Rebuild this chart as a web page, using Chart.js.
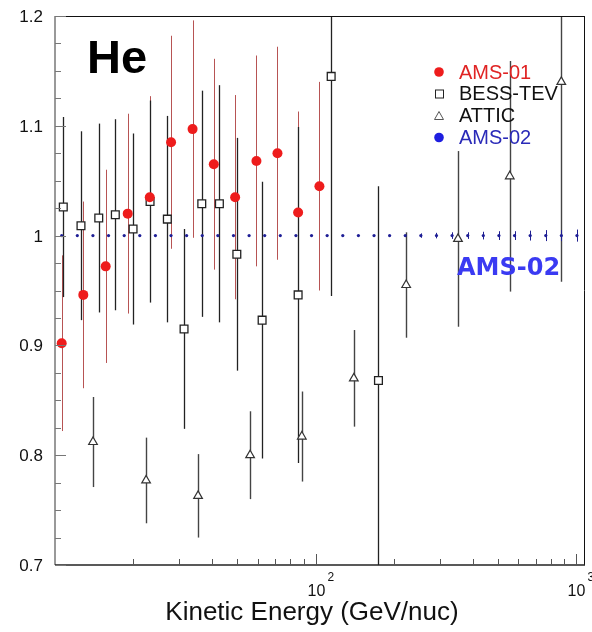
<!DOCTYPE html>
<html>
<head>
<meta charset="utf-8">
<script src="https://cdn.jsdelivr.net/npm/chart.js@4.4.1/dist/chart.umd.min.js"></script>
<style>
  html, body { margin: 0; padding: 0; background: #fff; }
  #wrap { width: 592px; height: 632px; }
</style>
</head>
<body>
<div id="wrap"><canvas id="heChart" width="592" height="632"></canvas></div>
<script>
// He flux ratio to AMS-02 vs kinetic energy (GeV/nuc)
const ams01E   = [10.61, 12.84, 15.65, 19.01, 23.10, 27.88, 33.72, 40.67, 49.10, 59.27, 71.37, 85.66, 103.4];
const ams01R   = [0.902, 0.946, 0.972, 1.020, 1.035, 1.085, 1.097, 1.065, 1.035, 1.068, 1.075, 1.021, 1.045];
const ams01Err = [0.080, 0.085, 0.088, 0.091, 0.092, 0.097, 0.099, 0.096, 0.093, 0.096, 0.097, 0.092, 0.095];

const bessE   = [10.76, 12.58, 14.72, 17.04, 19.93, 23.16, 26.98, 31.27, 36.57, 42.73, 49.85, 62.32, 85.66, 114.7, 174.2];
const bessR   = [1.026, 1.009, 1.016, 1.019, 1.006, 1.031, 1.015, 0.915, 1.029, 1.029, 0.983, 0.923, 0.946, 1.145, 0.868];
const bessErr = [0.082, 0.086, 0.086, 0.087, 0.087, 0.092, 0.094, 0.091, 0.103, 0.108, 0.106, 0.126, 0.153, 0.200, 0.177];

const atticE   = [13.99, 22.36, 35.39, 56.05, 88.51, 140.1, 222.5, 351.6, 555.6, 875.8];
const atticR   = [0.812, 0.777, 0.763, 0.800, 0.817, 0.870, 0.955, 0.997, 1.054, 1.140];
const atticErr = [0.041, 0.039, 0.038, 0.040, 0.041, 0.044, 0.048, 0.080, 0.105, 0.182];

const ams02E = [10.61, 12.18, 13.98, 16.05, 18.43, 21.15, 24.28, 27.87, 31.99, 36.72,
                42.15, 48.39, 55.55, 63.76, 73.19, 84.02, 96.44, 110.7, 127.1, 145.9,
                167.5, 192.2, 220.7, 253.3, 290.8, 333.8, 383.2, 439.8, 504.9, 579.6,
                665.3, 763.7, 876.7, 1006];
const ams02R = [1, 1, 1, 1, 1, 1, 1, 1, 1, 1, 1, 1, 1, 1, 1, 1, 1,
                1, 1, 1, 1, 1, 1, 1, 1, 1, 1, 1, 1, 1, 1, 1, 1, 1];
const ams02Err = [0, 0, 0, 0, 0, 0, 0, 0, 0, 0, 0, 0, 0, 0, 0, 0, 0,
                  0, 0, 0, 0, 0, 0, 0.002, 0.0025, 0.003, 0.003, 0.0035, 0.004, 0.004, 0.0045, 0.005, 0.005, 0.0055];

const seriesNames = ['AMS-01', 'BESS-TEV', 'ATTIC', 'AMS-02'];
const xTitle = 'Kinetic Energy (GeV/nuc)';

const FONT = "'Liberation Sans', Arial, Helvetica, sans-serif";

const pts = (xs, ys) => xs.map((x, i) => ({ x, y: ys[i] }));

// vertical error bars, clipped to the frame
const errorBars = {
  id: 'errorBars',
  beforeDatasetsDraw(chart) {
    const { ctx, chartArea: a, scales: { x, y } } = chart;
    ctx.save();
    ctx.beginPath();
    ctx.rect(a.left, a.top, a.right - a.left, a.bottom - a.top);
    ctx.clip();
    chart.data.datasets.forEach(ds => {
      ctx.strokeStyle = ds.barColor;
      ctx.lineWidth = ds.barWidth;
      ds.data.forEach((p, i) => {
        const e = ds.err[i];
        if (!e) return;
        const px = Math.round(x.getPixelForValue(p.x)) + 0.5;
        ctx.beginPath();
        ctx.moveTo(px, y.getPixelForValue(p.y + e));
        ctx.lineTo(px, y.getPixelForValue(p.y - e));
        ctx.stroke();
      });
    });
    ctx.restore();
  }
};

// ROOT-like frame, inward ticks, labels, legend, annotations
const frame = {
  id: 'frame',
  afterDraw(chart) {
    const { ctx, chartArea: a, scales: { x, y } } = chart;
    ctx.save();

    // frame
    ctx.lineWidth = 1;
    ctx.strokeStyle = '#111';
    ctx.beginPath();
    ctx.moveTo(a.left, a.top + 0.5); ctx.lineTo(a.right, a.top + 0.5);
    ctx.moveTo(a.right - 0.5, a.top); ctx.lineTo(a.right - 0.5, a.bottom);
    ctx.stroke();
    ctx.lineWidth = 1.5;
    ctx.strokeStyle = '#777';
    ctx.beginPath();
    ctx.moveTo(a.left, a.top); ctx.lineTo(a.left, a.bottom);
    ctx.stroke();
    ctx.strokeStyle = '#222';
    ctx.beginPath();
    ctx.moveTo(a.left, a.bottom); ctx.lineTo(a.right, a.bottom);
    ctx.stroke();

    // y ticks + labels
    ctx.lineWidth = 1;
    ctx.strokeStyle = '#777';
    ctx.fillStyle = '#111';
    ctx.font = '17px ' + FONT;
    ctx.textAlign = 'right';
    ctx.textBaseline = 'middle';
    y.ticks.forEach(t => {
      const py = Math.round(y.getPixelForValue(t.value)) + 0.5;
      const major = Math.abs(t.value * 10 - Math.round(t.value * 10)) < 1e-6;
      ctx.beginPath();
      ctx.moveTo(a.left, py);
      ctx.lineTo(a.left + (major ? 11 : 6), py);
      ctx.stroke();
      if (major) ctx.fillText(String(Math.round(t.value * 10) / 10), 43, py + 1);
    });

    // x ticks + labels
    ctx.strokeStyle = '#555';
    x.ticks.forEach(t => {
      const v = t.value;
      const e = Math.floor(Math.log10(v) + 1e-9);
      const s = v / Math.pow(10, e);
      if (Math.abs(s - Math.round(s)) > 1e-6) return;
      const px = Math.round(x.getPixelForValue(v)) + 0.5;
      if (px < a.left + 2 || px > a.right - 1) return;
      const major = Math.round(s) === 1;
      ctx.beginPath();
      ctx.moveTo(px, a.bottom);
      ctx.lineTo(px, a.bottom - (major ? 11 : 6));
      ctx.stroke();
      if (major) {
        ctx.fillStyle = '#111';
        ctx.textAlign = 'center';
        ctx.textBaseline = 'alphabetic';
        ctx.font = '16px ' + FONT;
        ctx.fillText('10', px, a.bottom + 31);
        ctx.textAlign = 'left';
        ctx.font = '12px ' + FONT;
        ctx.fillText(String(e), px + 11, a.bottom + 16);
      }
    });

    // axis title
    ctx.fillStyle = '#111';
    ctx.textAlign = 'center';
    ctx.textBaseline = 'alphabetic';
    ctx.font = '26px ' + FONT;
    ctx.fillText(xTitle, 312, 620);

    // "He"
    ctx.textAlign = 'left';
    ctx.font = 'bold 47px ' + FONT;
    ctx.fillStyle = '#000';
    ctx.fillText('He', 87, 73);

    // AMS-02 tag
    ctx.font = "bold 24px 'DejaVu Sans', Verdana, sans-serif";
    ctx.fillStyle = '#3a3af2';
    ctx.fillText('AMS-02', 457, 275);

    // legend
    const rows = [72, 93.5, 115.5, 137.5];
    const textCol = ['#e02424', '#111', '#111', '#2a2ab8'];
    ctx.font = '20px ' + FONT;
    ctx.textBaseline = 'middle';
    seriesNames.forEach((name, i) => {
      const cy = rows[i], cx = 439;
      ctx.lineWidth = 1;
      if (i === 0 || i === 3) {
        ctx.fillStyle = i === 0 ? '#ee1c1c' : '#1e1ee0';
        ctx.beginPath(); ctx.arc(cx, cy, 4.8, 0, Math.PI * 2); ctx.fill();
      } else if (i === 1) {
        ctx.strokeStyle = '#222';
        ctx.strokeRect(cx - 3.5, cy - 3.5, 8, 8);
      } else {
        ctx.strokeStyle = '#555';
        ctx.beginPath();
        ctx.moveTo(cx, cy - 4); ctx.lineTo(cx + 4.5, cy + 4); ctx.lineTo(cx - 4.5, cy + 4); ctx.closePath();
        ctx.stroke();
      }
      ctx.fillStyle = textCol[i];
      ctx.fillText(name, 459, cy + 1);
    });

    ctx.restore();
  }
};

const ctx = document.getElementById('heChart').getContext('2d');

const heChart = new Chart(ctx, {
  type: 'scatter',
  data: {
    datasets: [
      {
        label: seriesNames[0],
        data: pts(ams01E, ams01R),
        err: ams01Err, barColor: 'rgba(165,40,40,0.8)', barWidth: 1,
        pointStyle: 'circle', pointRadius: 5,
        backgroundColor: '#ee1c1c', borderColor: '#ee1c1c', borderWidth: 0,
        order: 1
      },
      {
        label: seriesNames[1],
        data: pts(bessE, bessR),
        err: bessErr, barColor: '#222', barWidth: 1.3,
        pointStyle: 'rect', pointRadius: 5.5,
        backgroundColor: '#fff', borderColor: '#222', borderWidth: 1.3,
        order: 2
      },
      {
        label: seriesNames[2],
        data: pts(atticE, atticR),
        err: atticErr, barColor: '#444', barWidth: 1.4,
        pointStyle: 'triangle', pointRadius: 5,
        backgroundColor: '#fff', borderColor: '#333', borderWidth: 1.2,
        order: 3
      },
      {
        label: seriesNames[3],
        data: pts(ams02E, ams02R),
        err: ams02Err, barColor: '#1e1e90', barWidth: 1,
        pointStyle: 'circle', pointRadius: 1.6,
        backgroundColor: '#1e1e96', borderColor: '#1e1e96', borderWidth: 0,
        order: 4
      }
    ]
  },
  options: {
    responsive: false,
    animation: false,
    devicePixelRatio: 1,
    events: [],
    layout: { padding: { top: 16, right: 7, left: 0, bottom: 0 } },
    plugins: { legend: { display: false }, tooltip: { enabled: false } },
    scales: {
      x: {
        type: 'logarithmic',
        min: 10, max: 1080,
        grid: { display: false, drawTicks: false },
        border: { display: false },
        ticks: { display: false },
        afterFit: s => { s.height = 67; }
      },
      y: {
        type: 'linear',
        min: 0.7, max: 1.2,
        grid: { display: false, drawTicks: false },
        border: { display: false },
        ticks: { display: false, stepSize: 0.025 },
        afterFit: s => { s.width = 55; }
      }
    }
  },
  plugins: [errorBars, frame]
});
</script>
</body>
</html>
